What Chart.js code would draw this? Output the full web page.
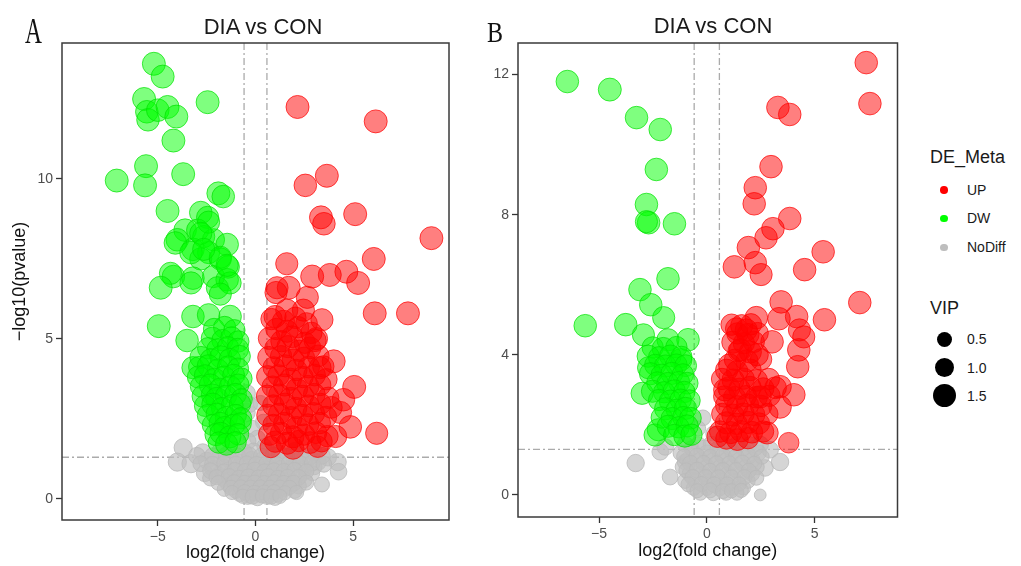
<!DOCTYPE html>
<html>
<head>
<meta charset="utf-8">
<script src="https://cdn.jsdelivr.net/npm/chart.js@4.4.1/dist/chart.umd.min.js"></script>
<style>
body { margin: 0; background: #fff; font-family: "Liberation Sans", Arial, sans-serif; }
#wrap { position: relative; width: 1021px; height: 566px; overflow: hidden; }
canvas { position: absolute; top: 0; }
.txt { position: absolute; line-height: 1; white-space: nowrap; color: #1a1a1a; }
.letter { font-family: "Liberation Serif", "Times New Roman", serif; transform-origin: left top; color: #111; }
.dot { position: absolute; border-radius: 50%; }
</style>
</head>
<body>
<div id="wrap">
  <canvas id="chartA" width="470" height="566" style="left:0px"></canvas>
  <canvas id="chartB" width="440" height="566" style="left:470px"></canvas>
  <div class="txt letter" style="left:25px;top:13px;font-size:36px;transform:scaleX(0.65)">A</div>
  <div class="txt letter" style="left:487px;top:17px;font-size:30px;transform:scaleX(0.8)">B</div>
  <div class="txt" style="left:163px;top:16px;width:200px;text-align:center;font-size:22px">DIA vs CON</div>
  <div class="txt" style="left:613px;top:15px;width:200px;text-align:center;font-size:22px">DIA vs CON</div>
  <div id="legend"></div>
</div>
<script>
// guide thresholds
const fcCut = 0.585;   // log2(1.5)
const pCut = 1.301;    // -log10(0.05)

const xTicksA = [-5, 0, 5];
const yTicksA = [0, 5, 10];
const xTicksB = [-5, 0, 5];
const yTicksB = [0, 4, 8, 12];

const groupNames = ['UP', 'DW', 'NoDiff'];
const vipKeys = [0.5, 1.0, 1.5];

// panel A points: [log2 fold change, -log10 pvalue, VIP]
const upA = [
  [2.15,12.25,1.5],[6.15,11.8,1.5],[3.65,10.1,1.5],[2.55,9.8,1.45],[3.35,8.8,1.5],[3.5,8.6,1.45],
  [5.1,8.9,1.5],[9.0,8.15,1.5],[6.05,7.5,1.5],[1.6,7.35,1.4],[2.9,6.95,1.5],[3.8,7.0,1.5],
  [4.65,7.1,1.5],[5.25,6.75,1.5],[1.1,6.6,1.4],[1.05,6.45,1.4],[1.7,6.6,1.5],[2.65,6.3,1.4],
  [1.0,5.7,1.4],[1.6,5.9,1.4],[2.45,5.9,1.4],[3.4,5.6,1.4],[6.1,5.8,1.5],[7.8,5.8,1.5],
  [3.05,4.95,1.4],[4.0,4.3,1.5],[5.05,3.5,1.5],[4.5,3.1,1.45],[4.35,2.7,1.4],[4.85,2.25,1.45],
  [4.1,1.95,1.4],[6.2,2.05,1.4],[3.3,4.1,1.4],
  [0.82,5.62,1.3],[1.43,5.55,1.4],[2.04,5.66,1.3],[2.61,5.48,1.35],
  [1.07,5.31,1.3],[1.62,5.24,1.4],[2.18,5.37,1.3],[2.86,5.19,1.3],
  [0.71,5.02,1.4],[1.33,4.93,1.3],[1.88,5.07,1.35],[2.52,4.88,1.3],[3.12,5.01,1.4],
  [1.02,4.71,1.3],[1.66,4.76,1.4],[2.23,4.63,1.3],[2.79,4.72,1.35],
  [0.68,4.42,1.4],[1.31,4.46,1.3],[1.93,4.34,1.4],[2.48,4.41,1.3],[3.21,4.47,1.35],
  [0.93,4.11,1.3],[1.52,4.16,1.4],[2.09,4.03,1.3],[2.72,4.12,1.35],[3.47,4.14,1.3],
  [0.62,3.82,1.4],[1.18,3.86,1.3],[1.79,3.74,1.4],[2.41,3.81,1.3],[3.02,3.87,1.35],[3.63,3.74,1.3],
  [0.88,3.51,1.3],[1.49,3.56,1.4],[2.12,3.44,1.3],[2.69,3.52,1.35],[3.31,3.56,1.3],
  [0.61,3.21,1.4],[1.22,3.26,1.3],[1.81,3.14,1.4],[2.43,3.22,1.3],[3.01,3.27,1.35],[3.72,3.16,1.3],
  [0.91,2.92,1.3],[1.52,2.96,1.4],[2.08,2.84,1.3],[2.71,2.91,1.35],[3.32,2.97,1.3],[3.88,2.86,1.35],
  [0.63,2.61,1.4],[1.21,2.66,1.3],[1.82,2.54,1.4],[2.39,2.62,1.3],[2.98,2.67,1.35],[3.61,2.56,1.3],
  [0.92,2.31,1.3],[1.49,2.36,1.4],[2.11,2.24,1.3],[2.68,2.32,1.35],[3.29,2.37,1.3],
  [0.72,2.02,1.4],[1.31,2.06,1.3],[1.91,1.94,1.4],[2.49,2.01,1.3],[3.09,2.07,1.35],[3.68,1.96,1.3],
  [1.01,1.79,1.3],[1.62,1.74,1.4],[2.21,1.81,1.3],[2.79,1.76,1.35],[3.38,1.8,1.3],
  [0.78,1.62,1.3],[1.92,1.58,1.35],[3.18,1.63,1.3]
];
const dwA = [
  [-5.2,13.6,1.5],[-4.75,13.2,1.5],[-5.7,12.5,1.5],[-5.56,12.1,1.45],[-5.5,11.85,1.45],[-5.0,12.15,1.45],
  [-4.5,12.25,1.5],[-4.05,11.95,1.5],[-2.45,12.4,1.5],[-4.2,11.2,1.5],[-5.6,10.4,1.5],[-7.1,9.95,1.5],
  [-5.65,9.8,1.5],[-3.7,10.15,1.5],[-1.9,9.55,1.5],[-1.65,9.45,1.45],[-4.5,9.0,1.5],[-2.8,8.95,1.45],
  [-2.45,8.8,1.4],[-3.6,8.4,1.45],[-2.96,8.4,1.4],[-4.0,8.1,1.45],[-2.65,8.2,1.4],[-2.15,8.1,1.4],
  [-1.45,7.95,1.45],[-3.2,7.8,1.45],[-2.4,7.7,1.4],[-2.8,7.5,1.4],[-1.8,7.5,1.4],[-1.4,7.25,1.45],
  [-4.2,6.95,1.45],[-4.35,7.05,1.4],[-3.2,6.9,1.45],[-2.15,6.95,1.4],[-1.45,6.85,1.45],[-4.85,6.6,1.5],
  [-4.95,5.4,1.5],[-3.5,4.95,1.45],[-3.2,5.7,1.45],[-2.4,5.75,1.45],[-1.3,5.7,1.45],[-3.3,6.75,1.4],
  [-1.95,6.6,1.4],[-1.3,6.75,1.4],[-1.8,6.4,1.4],[-1.8,7.55,1.4],[-1.45,7.3,1.4],[-2.4,8.65,1.4],
  [-2.8,8.3,1.4],[-4.1,8.0,1.45],[-3.3,7.7,1.45],[-2.65,7.8,1.4],[-3.2,4.1,1.4],
  [-2.12,5.31,1.3],[-1.58,5.36,1.4],[-1.08,5.27,1.3],
  [-2.21,5.02,1.4],[-1.69,4.96,1.3],[-1.22,5.04,1.35],[-0.88,4.92,1.3],
  [-2.42,4.71,1.3],[-1.93,4.66,1.4],[-1.41,4.74,1.3],[-0.91,4.68,1.35],
  [-2.79,4.42,1.4],[-2.28,4.36,1.3],[-1.77,4.44,1.4],[-1.31,4.37,1.3],[-0.82,4.46,1.35],
  [-2.88,4.12,1.3],[-2.41,4.16,1.4],[-1.92,4.04,1.3],[-1.39,4.13,1.35],[-0.9,4.07,1.3],
  [-2.92,3.81,1.4],[-2.58,3.86,1.3],[-2.09,3.74,1.4],[-1.61,3.82,1.3],[-1.12,3.87,1.35],[-0.72,3.76,1.3],
  [-2.79,3.52,1.3],[-2.31,3.56,1.4],[-1.82,3.44,1.3],[-1.29,3.51,1.35],[-0.88,3.57,1.3],
  [-2.68,3.21,1.4],[-2.22,3.26,1.3],[-1.98,3.14,1.4],[-1.51,3.22,1.3],[-1.02,3.27,1.35],[-0.71,3.11,1.3],
  [-2.58,2.91,1.3],[-2.18,2.96,1.4],[-1.71,2.84,1.3],[-1.19,2.92,1.35],[-0.79,2.97,1.3],
  [-2.41,2.61,1.4],[-1.98,2.66,1.3],[-1.49,2.54,1.4],[-1.01,2.62,1.3],[-0.74,2.52,1.3],
  [-2.18,2.31,1.3],[-1.81,2.36,1.4],[-1.59,2.24,1.3],[-1.11,2.31,1.35],[-0.76,2.36,1.3],
  [-2.02,2.01,1.4],[-1.78,2.06,1.3],[-1.31,1.94,1.4],[-0.89,2.02,1.3],
  [-1.88,1.76,1.3],[-1.48,1.71,1.4],[-1.02,1.77,1.3]
];
const ndA = [
  [-0.45,3.3,0.8],[-0.5,2.7,1.0],[-0.3,2.95,0.6],[0.25,3.0,0.5],[0.4,2.4,0.6],[-0.2,2.2,0.7],
  [0.1,1.9,0.6],[-0.4,1.8,0.7],[0.45,1.65,0.5],[-0.1,1.5,0.6],
  [-3.7,1.6,0.9],[-2.7,1.45,0.8],[-1.8,1.5,0.7],[-1.2,1.55,0.7],[-0.6,1.45,0.8],[0.6,1.5,0.7],
  [1.2,1.45,0.6],[2.0,1.5,0.7],[3.0,1.45,0.7],[3.7,1.3,0.8],
  [-4.0,1.15,0.9],[-3.3,1.1,0.9],[-2.5,1.2,0.7],[-1.9,1.25,0.6],[-1.3,1.2,0.7],[-0.7,1.15,0.6],
  [-0.2,1.25,0.5],[0.3,1.2,0.6],[0.8,1.15,0.7],[1.4,1.2,0.6],[2.0,1.25,0.7],[2.6,1.2,0.6],
  [3.2,1.15,0.7],[4.2,1.15,0.8],
  [-2.2,0.95,0.6],[-1.6,1.0,0.5],[-1.0,0.95,0.6],[-0.4,1.0,0.5],[0.2,0.95,0.6],[0.7,1.0,0.5],
  [1.3,0.95,0.6],[1.9,1.0,0.5],[2.5,0.95,0.6],[3.0,1.0,0.6],
  [-2.6,0.8,0.7],[-1.9,0.75,0.6],[-1.3,0.8,0.5],[-0.8,0.75,0.6],[-0.3,0.8,0.5],[0.2,0.75,0.6],
  [0.7,0.8,0.5],[1.2,0.75,0.6],[1.7,0.8,0.5],[2.3,0.75,0.6],[2.9,0.8,0.5],[4.25,0.85,0.7],
  [-2.3,0.65,0.6],[-1.6,0.6,0.5],[-1.1,0.55,0.6],[-0.6,0.6,0.5],[-0.1,0.55,0.6],[0.4,0.6,0.5],
  [0.9,0.55,0.5],[1.4,0.6,0.6],[1.9,0.55,0.5],[2.5,0.6,0.6],
  [-1.4,0.45,0.5],[-0.8,0.4,0.6],[-0.3,0.45,0.5],[0.2,0.4,0.5],[0.7,0.45,0.6],[1.2,0.4,0.5],
  [1.7,0.45,0.5],[2.2,0.4,0.6],[3.4,0.45,0.5],
  [-1.6,0.3,0.4],[-1.0,0.25,0.5],[-0.5,0.3,0.5],[0.0,0.25,0.6],[0.5,0.3,0.5],[1.0,0.25,0.5],
  [1.5,0.3,0.4],[2.0,0.25,0.5],
  [-0.8,0.15,0.5],[-0.3,0.1,0.5],[0.2,0.15,0.6],[0.7,0.1,0.5],[1.2,0.15,0.5],
  [-0.4,0.05,0.4],[0.1,0.02,0.5],[0.6,0.05,0.4],[1.0,0.03,0.5],
  [-3.0,1.35,0.7],[-2.2,1.35,0.6],[-1.5,1.38,0.6],[-0.9,1.33,0.7],[-0.3,1.36,0.6],[0.3,1.34,0.6],
  [0.9,1.37,0.6],[1.6,1.33,0.6],[2.3,1.36,0.7],[2.8,1.32,0.6],[3.4,1.35,0.7],
  [-2.8,1.1,0.6],[-2.2,1.08,0.6],[-1.6,1.12,0.5],[-1.0,1.09,0.6],[-0.45,1.11,0.5],[0.05,1.08,0.6],
  [0.55,1.1,0.5],[1.1,1.07,0.6],[1.7,1.11,0.5],[2.3,1.09,0.6],[2.9,1.12,0.6],[3.5,1.08,0.6],
  [-2.3,0.88,0.6],[-1.6,0.86,0.5],[-1.05,0.89,0.6],[-0.55,0.87,0.5],[-0.05,0.9,0.6],[0.45,0.86,0.5],
  [0.95,0.88,0.6],[1.45,0.87,0.5],[2.0,0.89,0.6],[2.6,0.86,0.5],
  [-2.0,0.68,0.5],[-1.35,0.7,0.6],[-0.85,0.66,0.5],[-0.35,0.69,0.6],[0.15,0.67,0.5],[0.65,0.7,0.6],
  [1.15,0.66,0.5],[1.65,0.69,0.5],[2.2,0.67,0.6],
  [-1.9,0.5,0.5],[-1.1,0.52,0.5],[-0.55,0.49,0.6],[-0.05,0.51,0.5],[0.45,0.48,0.6],[0.95,0.52,0.5],
  [1.45,0.5,0.5],[1.95,0.49,0.6],[2.6,0.51,0.5],
  [-1.25,0.35,0.5],[-0.75,0.36,0.5],[-0.25,0.34,0.6],[0.25,0.36,0.5],[0.75,0.35,0.5],[1.25,0.34,0.6],
  [1.75,0.36,0.4],
  [-1.2,0.2,0.4],[-0.55,0.21,0.5],[-0.05,0.19,0.5],[0.45,0.2,0.5],[0.95,0.21,0.5],[1.5,0.19,0.4],
  [2.1,0.2,0.4],
  [-0.65,0.08,0.4],[-0.15,0.07,0.5],[0.35,0.09,0.4],[0.8,0.07,0.5],[1.25,0.08,0.4]
];

// panel B points
const upB = [
  [7.4,12.34,1.45],[7.57,11.17,1.45],[3.3,11.06,1.45],[3.85,10.86,1.45],[2.98,9.37,1.45],[2.25,8.77,1.45],
  [2.2,8.31,1.45],[3.85,7.89,1.45],[3.07,7.6,1.45],[2.75,7.34,1.45],[1.93,7.06,1.45],[5.4,6.94,1.45],
  [2.25,6.63,1.45],[1.28,6.51,1.45],[2.52,6.29,1.4],[4.54,6.43,1.45],[7.1,5.49,1.45],[5.46,5.0,1.45],
  [3.45,5.51,1.45],[3.35,5.03,1.45],[4.17,5.09,1.45],[4.3,4.71,1.4],[4.5,4.51,1.4],[4.27,4.14,1.45],
  [4.22,3.66,1.45],[2.3,5.06,1.45],[1.38,4.74,1.4],[1.83,4.71,1.4],[3.03,4.37,1.45],[1.56,4.14,1.4],
  [2.34,4.0,1.4],[1.06,3.71,1.4],[0.83,3.0,1.4],[3.4,3.09,1.45],[4.04,2.86,1.45],[3.4,2.51,1.45],
  [2.48,2.8,1.4],[3.8,1.49,1.2],[2.8,1.77,1.4],[0.5,1.66,1.3],
  [1.15,4.86,1.3],[1.62,4.83,1.4],[2.05,4.87,1.3],
  [1.42,4.61,1.3],[1.91,4.58,1.4],[2.36,4.62,1.3],
  [1.21,4.36,1.4],[1.72,4.33,1.3],[2.18,4.37,1.3],
  [1.48,4.11,1.3],[2.02,4.08,1.4],
  [1.31,3.86,1.3],[1.86,3.83,1.4],[2.52,3.87,1.3],
  [0.92,3.56,1.4],[1.41,3.53,1.3],[2.02,3.57,1.35],
  [0.71,3.31,1.3],[1.22,3.28,1.4],[1.71,3.32,1.3],[2.31,3.27,1.35],[2.88,3.31,1.3],
  [1.02,3.06,1.4],[1.51,3.03,1.3],[2.01,3.07,1.4],[2.62,3.04,1.3],[3.19,3.06,1.35],
  [0.81,2.81,1.3],[1.29,2.78,1.4],[1.82,2.82,1.3],[2.31,2.79,1.35],[2.91,2.83,1.3],
  [0.92,2.56,1.4],[1.41,2.53,1.3],[1.89,2.57,1.4],[2.52,2.54,1.3],
  [0.72,2.31,1.3],[1.21,2.28,1.4],[1.71,2.32,1.3],[2.19,2.29,1.35],[2.81,2.31,1.3],
  [0.91,2.06,1.4],[1.39,2.03,1.3],[1.92,2.07,1.4],[2.42,2.04,1.3],
  [0.62,1.81,1.3],[1.11,1.78,1.4],[1.59,1.82,1.3],[2.09,1.79,1.35],[2.61,1.81,1.3],
  [0.91,1.61,1.3],[1.42,1.58,1.35],[1.91,1.62,1.3]
];
const dwB = [
  [-6.47,11.8,1.45],[-4.5,11.57,1.5],[-3.26,10.77,1.45],[-2.16,10.43,1.45],[-2.34,9.29,1.45],[-2.8,8.29,1.45],
  [-2.7,7.77,1.45],[-2.8,7.8,1.4],[-1.5,7.74,1.45],[-1.8,6.17,1.45],[-3.1,5.86,1.45],[-2.6,5.43,1.45],
  [-5.64,4.83,1.45],[-3.76,4.86,1.45],[-2.0,5.06,1.4],[-2.94,4.57,1.4],[-1.8,4.43,1.4],[-0.87,4.43,1.45],
  [-1.2,3.86,1.4],[-2.7,3.63,1.4],[-3.0,2.9,1.4],[-2.25,1.86,1.4],[-2.4,1.71,1.4],
  [-2.51,4.21,1.3],[-2.02,4.18,1.4],[-1.41,4.22,1.3],
  [-2.72,3.96,1.4],[-2.21,3.93,1.3],[-1.69,3.97,1.35],[-1.18,3.94,1.3],
  [-2.39,3.71,1.3],[-1.92,3.68,1.4],[-1.41,3.72,1.3],[-0.98,3.69,1.35],
  [-2.61,3.46,1.4],[-2.09,3.43,1.3],[-1.62,3.47,1.4],[-1.11,3.44,1.3],
  [-2.29,3.21,1.3],[-1.81,3.18,1.4],[-1.29,3.22,1.3],[-0.91,3.19,1.35],
  [-2.52,2.96,1.4],[-1.98,2.93,1.3],[-1.51,2.97,1.4],[-1.04,2.94,1.3],
  [-2.21,2.71,1.3],[-1.69,2.68,1.4],[-1.21,2.72,1.3],[-0.81,2.69,1.35],
  [-1.91,2.46,1.4],[-1.39,2.43,1.3],[-0.99,2.47,1.4],
  [-2.09,2.21,1.3],[-1.61,2.18,1.4],[-1.09,2.22,1.3],[-0.76,2.19,1.35],
  [-1.79,1.96,1.4],[-1.31,1.93,1.3],[-0.91,1.97,1.4],
  [-1.51,1.71,1.3],[-1.02,1.68,1.4],[-0.71,1.72,1.3]
];
const ndB = [
  [-3.3,0.91,0.8],[-1.7,0.51,0.6],[-2.16,1.23,0.7],[-1.93,1.37,0.7],[-1.0,0.94,0.6],[2.7,0.77,0.7],
  [3.4,0.94,0.8],[2.94,1.29,0.7],[-0.18,2.2,0.6],[2.48,0.0,0.1],[-0.4,1.9,0.5],[0.3,1.75,0.5],
  [-1.0,1.45,0.6],[-0.4,1.45,0.5],[0.2,1.45,0.6],[0.8,1.45,0.5],[1.4,1.45,0.6],[2.0,1.45,0.5],[2.5,1.45,0.6],
  [-1.2,1.2,0.6],[-0.6,1.2,0.5],[0.0,1.2,0.6],[0.6,1.2,0.5],[1.2,1.2,0.6],[1.8,1.2,0.5],[2.4,1.2,0.6],
  [-0.9,1.0,0.5],[-0.3,1.0,0.6],[0.3,1.0,0.5],[0.9,1.0,0.6],[1.5,1.0,0.5],[2.1,1.0,0.6],
  [-1.1,0.8,0.6],[-0.6,0.8,0.5],[0.0,0.8,0.6],[0.6,0.8,0.5],[1.2,0.8,0.6],[1.8,0.8,0.5],[2.3,0.8,0.6],
  [-0.8,0.6,0.5],[-0.2,0.6,0.6],[0.4,0.6,0.5],[1.0,0.6,0.6],[1.6,0.6,0.5],[2.1,0.6,0.5],
  [-1.0,0.4,0.5],[-0.5,0.4,0.6],[0.1,0.4,0.5],[0.7,0.4,0.6],[1.3,0.4,0.5],[1.9,0.4,0.5],
  [-0.6,0.2,0.5],[0.0,0.2,0.5],[0.6,0.2,0.6],[1.2,0.2,0.5],[1.7,0.2,0.4],
  [-0.3,0.05,0.4],[0.3,0.05,0.5],[0.9,0.05,0.4],[1.4,0.05,0.4],
  [-0.7,1.33,0.5],[-0.1,1.34,0.6],[0.5,1.32,0.5],[1.1,1.35,0.6],[1.7,1.33,0.5],[2.25,1.34,0.6],
  [-1.05,1.1,0.5],[-0.45,1.11,0.6],[0.15,1.09,0.5],[0.75,1.12,0.6],[1.35,1.1,0.5],[1.95,1.11,0.6],[2.55,1.09,0.5],
  [-0.75,0.9,0.6],[-0.15,0.91,0.5],[0.45,0.89,0.6],[1.05,0.9,0.5],[1.65,0.91,0.6],[2.2,0.89,0.5],
  [-0.95,0.7,0.5],[-0.45,0.71,0.6],[0.15,0.69,0.5],[0.75,0.7,0.6],[1.35,0.71,0.5],[1.95,0.69,0.5],
  [-0.65,0.5,0.6],[-0.05,0.51,0.5],[0.55,0.49,0.6],[1.15,0.5,0.5],[1.75,0.51,0.5],[2.3,0.49,0.5],
  [-0.85,0.3,0.5],[-0.25,0.31,0.5],[0.35,0.29,0.6],[0.95,0.3,0.5],[1.5,0.31,0.4],
  [-0.45,0.12,0.4],[0.15,0.13,0.5],[0.75,0.11,0.5],[1.15,0.12,0.4],[1.6,0.13,0.4]
];

const groupColors = {
  UP: ['rgba(255,0,0,0.5)', 'rgba(255,0,0,0.7)', '#ff0000'],
  DW: ['rgba(0,255,0,0.5)', 'rgba(0,225,0,0.7)', '#00ff00'],
  NoDiff: ['rgba(190,190,190,0.65)', 'rgba(185,185,185,0.8)', '#bebebe']
};

function vipRadius(v) {
  return 5.5 + 4 * v;
}

function toPoints(arr) {
  return arr.map(p => ({x: p[0], y: p[1], v: p[2]}));
}

function tickText(v) {
  return v < 0 ? '\u2212' + Math.abs(v) : '' + v;
}

// dashed cut-off guides under the points, full frame on top
const guides = {
  id: 'guides',
  beforeDatasetsDraw(chart) {
    const {ctx, chartArea, scales} = chart;
    ctx.save();
    ctx.strokeStyle = '#ababab';
    ctx.lineWidth = 1.3;
    ctx.setLineDash([7, 3, 2, 3]);
    ctx.beginPath();
    [-fcCut, fcCut].forEach(function (v) {
      var px = scales.x.getPixelForValue(v);
      ctx.moveTo(px, chartArea.top);
      ctx.lineTo(px, chartArea.bottom);
    });
    var py = scales.y.getPixelForValue(pCut);
    ctx.moveTo(chartArea.left, py);
    ctx.lineTo(chartArea.right, py);
    ctx.stroke();
    ctx.restore();
  },
  afterDraw(chart) {
    const {ctx, chartArea} = chart;
    ctx.save();
    ctx.strokeStyle = '#3a3a3a';
    ctx.lineWidth = 1.5;
    ctx.strokeRect(chartArea.left, chartArea.top, chartArea.right - chartArea.left, chartArea.bottom - chartArea.top);
    ctx.restore();
  }
};

function makeDataset(name, arr, order) {
  var c = groupColors[name];
  return {
    label: name,
    data: toPoints(arr),
    order: order,
    backgroundColor: c[0],
    borderColor: c[1],
    borderWidth: 1,
    pointRadius: ctx => vipRadius(ctx.raw.v),
    pointHoverRadius: ctx => vipRadius(ctx.raw.v)
  };
}

function makeVolcano(id, up, dw, nd, opt) {
  var tickFont = {family: '"Liberation Sans", Arial, sans-serif', size: 14};
  var titleFont = {family: '"Liberation Sans", Arial, sans-serif', size: 18};
  var gridOpt = {drawOnChartArea: false, drawTicks: true, tickLength: 6, tickColor: '#333', tickWidth: 1.3};

  return new Chart(document.getElementById(id), {
    type: 'scatter',
    data: {
      datasets: [
        makeDataset('UP', up, 1),
        makeDataset('DW', dw, 2),
        makeDataset('NoDiff', nd, 3)
      ]
    },
    options: {
      responsive: false,
      animation: false,
      devicePixelRatio: 1,
      layout: {padding: {top: 43, right: opt.padRight, left: 0, bottom: 0}},
      plugins: {legend: {display: false}, tooltip: {enabled: false}},
      scales: {
        x: {
          type: 'linear',
          min: opt.xMin, max: opt.xMax,
          afterBuildTicks: s => { s.ticks = opt.xTicks.map(v => ({value: v})); },
          afterFit: s => { s.height = opt.xHeight; },
          grid: gridOpt,
          border: {display: false},
          ticks: {font: tickFont, color: '#4d4d4d', padding: 3, maxRotation: 0, callback: tickText},
          title: {display: true, text: 'log2(fold change)', font: titleFont, color: '#111',
                  padding: {top: 0, bottom: opt.xTitlePad}}
        },
        y: {
          type: 'linear',
          min: opt.yMin, max: opt.yMax,
          afterBuildTicks: s => { s.ticks = opt.yTicks.map(v => ({value: v})); },
          afterFit: s => { s.width = opt.yWidth; },
          grid: gridOpt,
          border: {display: false},
          ticks: {font: tickFont, color: '#4d4d4d', padding: 3, callback: tickText},
          title: {display: opt.yTitle, text: '\u2212log10(pvalue)', font: titleFont, color: '#111',
                  padding: {top: 9, bottom: 0}}
        }
      }
    },
    plugins: [guides]
  });
}

function makeLegend() {
  var box = document.getElementById('legend');
  var html = '<div class="txt" style="left:930px;top:148px;font-size:18px">DE_Meta</div>';
  var rows = [190, 218.3, 247.3];
  groupNames.forEach(function (g, i) {
    var r = 3.8;
    html += '<div class="dot" style="left:' + (944 - r) + 'px;top:' + (rows[i] - r) + 'px;width:' + 2 * r +
      'px;height:' + 2 * r + 'px;background:' + groupColors[g][2] + '"></div>';
    html += '<div class="txt" style="left:967px;top:' + (rows[i] - 7.5) + 'px;font-size:14px">' + g + '</div>';
  });
  html += '<div class="txt" style="left:930px;top:299px;font-size:18px">VIP</div>';
  var vrows = [339.3, 367.7, 395.7];
  vipKeys.forEach(function (v, i) {
    var r = vipRadius(v);
    html += '<div class="dot" style="left:' + (944 - r) + 'px;top:' + (vrows[i] - r) + 'px;width:' + 2 * r +
      'px;height:' + 2 * r + 'px;background:#000"></div>';
    html += '<div class="txt" style="left:967px;top:' + (vrows[i] - 7) + 'px;font-size:14px">' + v.toFixed(1) + '</div>';
  });
  box.innerHTML = html;
}

makeVolcano('chartA', upA, dwA, ndA, {
  xMin: -9.9, xMax: 9.9, yMin: -0.66, yMax: 14.25,
  xTicks: xTicksA, yTicks: yTicksA,
  padRight: 21, yWidth: 62, xHeight: 46, xTitlePad: 2, yTitle: true
});
makeVolcano('chartB', upB, dwB, ndB, {
  xMin: -8.76, xMax: 8.85, yMin: -0.63, yMax: 12.9,
  xTicks: xTicksB, yTicks: yTicksB,
  padRight: 8, yWidth: 48, xHeight: 49, xTitlePad: 4, yTitle: false
});
makeLegend();
</script>
</body>
</html>
